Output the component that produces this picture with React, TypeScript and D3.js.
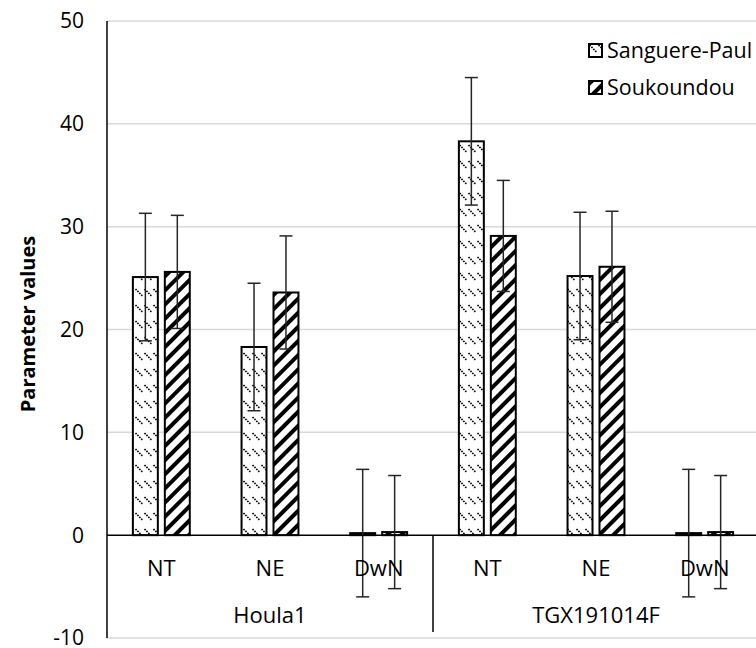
import React from "react";
import * as d3 from "d3";

const groups = ["Houla1", "TGX191014F"];
const traits = ["NT", "NE", "DwN"];
const seriesNames = ["Sanguere-Paul", "Soukoundou"];
const sanguereValues = [25.1, 18.3, 0.2, 38.3, 25.2, 0.2];
const soukoundouValues = [25.6, 23.6, 0.3, 29.1, 26.1, 0.3];
const sanguereErrors = [6.2, 6.2, 6.2, 6.2, 6.2, 6.2];
const soukoundouErrors = [5.5, 5.5, 5.5, 5.4, 5.4, 5.5];
const yTicks = [-10, 0, 10, 20, 30, 40, 50];

const W = 756;
const H = 648;
const FONT = "'Open Sans', sans-serif";

export default function App() {
  const cats = groups.flatMap((g) => traits.map((t) => `${g}|${t}`));
  const x = d3.scaleBand<string>().domain(cats).range([107, 759]).padding(0);
  const inner = d3
    .scaleBand<string>()
    .domain(seriesNames)
    .range([0, x.bandwidth()])
    .paddingInner(0.219)
    .paddingOuter(0.81);
  const y = d3.scaleLinear().domain([-10, 50]).range([638, 21]);

  const series = [
    { name: seriesNames[0], values: sanguereValues, errors: sanguereErrors, fill: "url(#dotPat)" },
    { name: seriesNames[1], values: soukoundouValues, errors: soukoundouErrors, fill: "url(#stripePat)" },
  ];

  const groupWidth = x.bandwidth() * traits.length;

  return (
    <svg width={W} height={H} style={{ position: "absolute", left: 0, top: 0, background: "#fff" }}>
      <defs>
        <pattern id="dotPat" width="9" height="16" patternUnits="userSpaceOnUse">
          <rect width="9" height="16" fill="#fff" />
          <line x1="0.5" y1="1" x2="7.5" y2="8" stroke="#000" strokeWidth="1.6" strokeDasharray="1.6 1.1" />
        </pattern>
        <pattern id="stripePat" width="10" height="10" patternUnits="userSpaceOnUse" patternTransform="rotate(45)">
          <rect width="10" height="10" fill="#fff" />
          <rect x="0" y="0" width="4" height="10" fill="#000" />
        </pattern>
      </defs>

      {/* gridlines */}
      {yTicks.map((t) =>
        t === 0 ? null : (
          <line key={t} x1={107} x2={W} y1={y(t)} y2={y(t)} stroke="#d9d9d9" strokeWidth={1.5} />
        )
      )}

      {/* y tick labels */}
      {yTicks.map((t) => (
        <text
          key={"l" + t}
          x={84}
          y={y(t)}
          dy="0.35em"
          textAnchor="end"
          fontFamily={FONT}
          fontSize={21}
          fill="#000"
        >
          {t}
        </text>
      ))}

      {/* y axis title */}
      <text
        transform={`translate(35,${324}) rotate(-90)`}
        textAnchor="middle"
        fontFamily={FONT}
        fontSize={20}
        fontWeight="bold"
        fill="#000"
      >
        Parameter values
      </text>

      {/* bars */}
      {series.map((s) =>
        cats.map((c, i) => {
          const bx = (x(c) as number) + (inner(s.name) as number);
          const v = s.values[i];
          return (
            <rect
              key={s.name + c}
              x={bx}
              y={y(Math.max(v, 0))}
              width={inner.bandwidth()}
              height={Math.abs(y(0) - y(v))}
              fill={s.fill}
              stroke="#000"
              strokeWidth={2}
            />
          );
        })
      )}

      {/* error bars */}
      {series.map((s) =>
        cats.map((c, i) => {
          const cx = (x(c) as number) + (inner(s.name) as number) + inner.bandwidth() / 2;
          const v = s.values[i];
          const e = s.errors[i];
          return (
            <g key={"e" + s.name + c} stroke="#262626" strokeWidth={1.5}>
              <line x1={cx} x2={cx} y1={y(v + e)} y2={y(v - e)} />
              <line x1={cx - 6.5} x2={cx + 6.5} y1={y(v + e)} y2={y(v + e)} />
              <line x1={cx - 6.5} x2={cx + 6.5} y1={y(v - e)} y2={y(v - e)} />
            </g>
          );
        })
      )}

      {/* axes */}
      <line x1={107} x2={107} y1={y(50)} y2={y(-10)} stroke="#000" strokeWidth={1.5} />
      <line x1={107} x2={W} y1={y(0)} y2={y(0)} stroke="#000" strokeWidth={1.5} />
      {groups.map((g, gi) => {
        const gx = 107 + gi * groupWidth;
        return gi === 0 ? null : (
          <line key={"sep" + g} x1={gx} x2={gx} y1={y(0)} y2={632} stroke="#000" strokeWidth={1.5} />
        );
      })}

      {/* category labels */}
      {cats.map((c) => (
        <text
          key={"c" + c}
          x={(x(c) as number) + x.bandwidth() / 2}
          y={576}
          textAnchor="middle"
          fontFamily={FONT}
          fontSize={22}
          fill="#000"
        >
          {c.split("|")[1]}
        </text>
      ))}
      {groups.map((g, gi) => (
        <text
          key={"g" + g}
          x={107 + gi * groupWidth + groupWidth / 2}
          y={623}
          textAnchor="middle"
          fontFamily={FONT}
          fontSize={22}
          fill="#000"
        >
          {g}
        </text>
      ))}

      {/* legend */}
      {series.map((s, i) => (
        <g key={"leg" + s.name} transform={`translate(589,${44 + i * 37})`}>
          <rect x={0} y={0} width={13} height={13} fill={s.fill} stroke="#000" strokeWidth={2} />
          <text x={18} y={6.5} dy="0.35em" fontFamily={FONT} fontSize={21.5} fill="#000">
            {s.name}
          </text>
        </g>
      ))}
    </svg>
  );
}
